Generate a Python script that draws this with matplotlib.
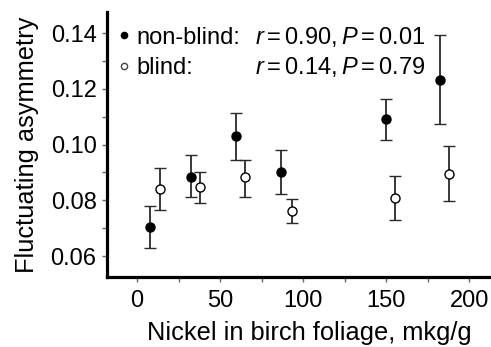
import matplotlib
matplotlib.use("Agg")
import matplotlib.pyplot as plt
from matplotlib.lines import Line2D

plt.rcParams['font.family'] = ['Liberation Sans', 'DejaVu Sans']
plt.rcParams['mathtext.fontset'] = 'custom'
plt.rcParams['mathtext.rm'] = 'Liberation Sans'
plt.rcParams['mathtext.it'] = 'Liberation Sans:italic'

# non-blind (filled)
nb_x = [8, 32.5, 59.5, 86.5, 150, 182.5]
nb_y = [0.0704, 0.0882, 0.1032, 0.0900, 0.1093, 0.1232]
nb_lo = [0.0629, 0.0811, 0.0946, 0.0822, 0.1018, 0.1075]
nb_hi = [0.0779, 0.0961, 0.1114, 0.0979, 0.1164, 0.1393]

# blind (open)
b_x = [14, 38, 65, 93, 155.5, 188]
b_y = [0.0839, 0.0846, 0.0882, 0.0761, 0.0807, 0.0896]
b_lo = [0.0764, 0.0790, 0.0811, 0.0718, 0.0729, 0.0796]
b_hi = [0.0914, 0.0900, 0.0946, 0.0804, 0.0886, 0.0996]

xticks = [0, 50, 100, 150, 200]
yticks = [0.06, 0.08, 0.10, 0.12, 0.14]

FS = 17
LFS = 18.3

fig = plt.figure(figsize=(4.91, 3.47), dpi=100)
ax = fig.add_axes([0.218, 0.202, 0.782, 0.763])

ecol = '#2a2a2a'
for xs, ys, lo, hi, fc in [(nb_x, nb_y, nb_lo, nb_hi, 'black'),
                           (b_x, b_y, b_lo, b_hi, 'white')]:
    err = [[y - l for y, l in zip(ys, lo)], [h - y for y, h in zip(ys, hi)]]
    ax.errorbar(xs, ys, yerr=err, fmt='o', ms=6.5, mfc=fc, mec='black', mew=1.0,
                ecolor=ecol, elinewidth=1.3, capsize=4.0, capthick=1.3, zorder=3)

ax.set_xlim(-18, 213)
ax.set_ylim(0.0525, 0.1475)
ax.set_xticks(xticks)
ax.set_xticks([25, 75, 125, 175], minor=True)
ax.set_yticks(yticks)
ax.set_yticks([0.07, 0.09, 0.11, 0.13], minor=True)
ax.set_yticklabels(['%.2f' % v for v in yticks])
ax.tick_params(which='both', direction='out', length=3.5, width=1.0, color='#666666',
               labelsize=FS)
ax.tick_params(axis='y', pad=4)
ax.tick_params(axis='x', pad=6)

for s in ['top', 'right']:
    ax.spines[s].set_visible(False)
for s in ['left', 'bottom']:
    ax.spines[s].set_linewidth(2.3)

ax.set_xlabel('Nickel in birch foliage, mkg/g', fontsize=LFS)
ax.set_ylabel('Fluctuating asymmetry', fontsize=LFS)
ax.xaxis.set_label_coords(0.528, -0.168)
ax.yaxis.set_label_coords(-0.178, 0.5)

handles = [Line2D([], [], ls='none', marker='o', ms=4.5, mfc='black', mec='black'),
           Line2D([], [], ls='none', marker='o', ms=4.5, mfc='white', mec='#444444')]
ax.legend(handles, ['non-blind:', 'blind:'], loc='upper left', bbox_to_anchor=(-0.015, 1.008),
          frameon=False, fontsize=FS, handlelength=0.5, handletextpad=0.3,
          labelspacing=0.36, borderaxespad=0.3)

ax.text(71, 0.1386, r'$r=0.90, P=0.01$', fontsize=FS, va='center', ha='left')
ax.text(71, 0.1279, r'$r=0.14, P=0.79$', fontsize=FS, va='center', ha='left')

fig.savefig('out.png', dpi=100)
